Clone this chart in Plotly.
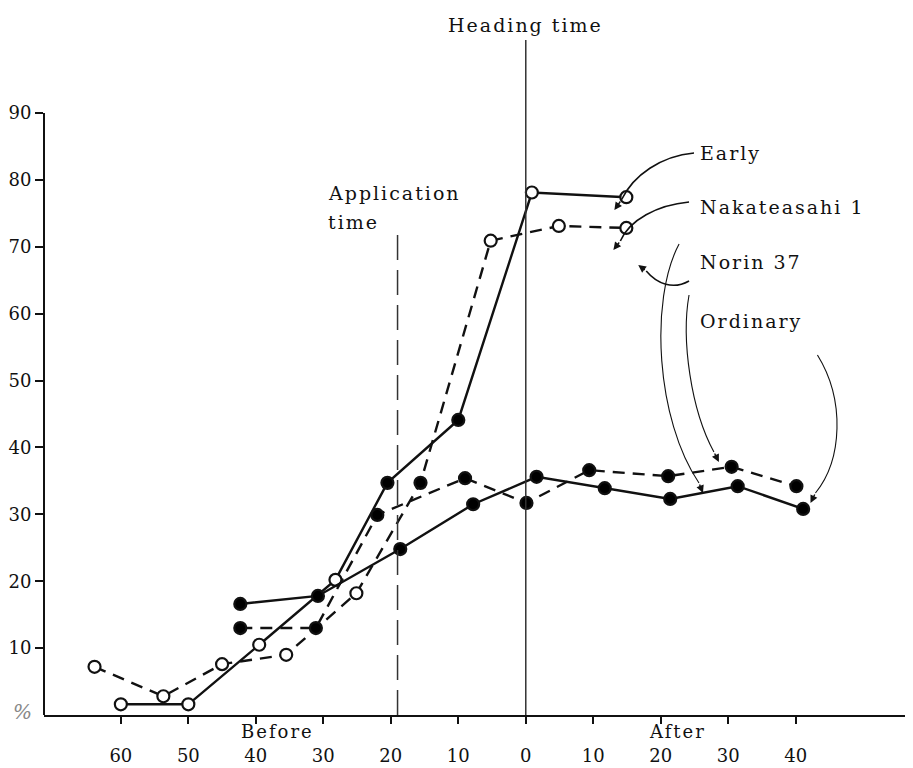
import plotly.graph_objects as go

# ---------------- data (days relative to heading; negative = before) -------------
early_solid_x = [-60.0, -50.0, -39.5, -28.2, -20.5, -10.0, 0.9, 14.9]
early_solid_y = [1.6, 1.6, 10.5, 20.2, 34.7, 44.1, 78.1, 77.4]
early_solid_filled = [False, False, False, False, True, True, False, False]

early_dash_x = [-63.9, -53.7, -45.0, -35.5, -25.1, -15.6, -5.2, 4.9, 14.9]
early_dash_y = [7.2, 2.8, 7.6, 9.0, 18.2, 34.7, 70.9, 73.1, 72.8]
early_dash_filled = [False, False, False, False, False, True, False, False, False]

ord_solid_x = [-42.3, -30.8, -18.6, -7.8, 1.6, 11.7, 21.4, 31.4, 41.1]
ord_solid_y = [16.6, 17.8, 24.8, 31.5, 35.6, 33.9, 32.3, 34.2, 30.8]

ord_dash_x = [-42.3, -31.1, -22.0, -9.0, 0.1, 9.4, 21.1, 30.5, 40.1]
ord_dash_y = [13.0, 13.0, 29.9, 35.4, 31.7, 36.6, 35.7, 37.1, 34.2]

x_tickvals = [-60, -50, -40, -30, -20, -10, 0, 10, 20, 30, 40]
x_ticktext = ["60", "50", "40", "30", "20", "10", "0", "10", "20", "30", "40"]
y_tickvals = [10, 20, 30, 40, 50, 60, 70, 80, 90]

heading_x = 0
application_x = -19

FONT = "DejaVu Serif"
INK = "#111111"

# ---------------- layout geometry (reference-page pixels) ----------------
PAGE_OFF = 8                     # browser body margin
FIG_W, FIG_H = 913 - PAGE_OFF, 768 - PAGE_OFF
PLOT_L, PLOT_R = 40, 913         # plot area edges on the page
PLOT_T, PLOT_B = 30, 715
X0_PX, X_SCALE = 524.0, 6.78
Y0_PX, Y_SCALE = 715.0, 6.69


def dx(px):
    return (px - X0_PX) / X_SCALE


def dy(py):
    return (Y0_PX - py) / Y_SCALE


def px_paper(px):
    return (px - PLOT_L) / (PLOT_R - PLOT_L)


def py_paper(py):
    return (PLOT_B - py) / (PLOT_B - PLOT_T)


def markers(filled_flags):
    return dict(
        symbol="circle",
        size=12,
        color=["#000000" if f else "white" for f in filled_flags],
        line=dict(color=INK, width=2.2),
    )


fig = go.Figure()

fig.add_trace(go.Scatter(
    x=early_solid_x, y=early_solid_y, mode="lines+markers",
    name="Early – Nakateasahi 1",
    line=dict(color=INK, width=2.4),
    marker=markers(early_solid_filled), cliponaxis=False))

fig.add_trace(go.Scatter(
    x=early_dash_x, y=early_dash_y, mode="lines+markers",
    name="Early – Norin 37",
    line=dict(color=INK, width=2.4, dash="12px,8px"),
    marker=markers(early_dash_filled), cliponaxis=False))

fig.add_trace(go.Scatter(
    x=ord_solid_x, y=ord_solid_y, mode="lines+markers",
    name="Ordinary – Nakateasahi 1",
    line=dict(color=INK, width=2.4),
    marker=markers([True] * len(ord_solid_x)), cliponaxis=False))

fig.add_trace(go.Scatter(
    x=ord_dash_x, y=ord_dash_y, mode="lines+markers",
    name="Ordinary – Norin 37",
    line=dict(color=INK, width=2.4, dash="12px,8px"),
    marker=markers([True] * len(ord_dash_x)), cliponaxis=False))

shapes = [
    # y axis line (only up to 90)
    dict(type="line", xref="paper", x0=0, x1=0, yref="y", y0=0, y1=90,
         line=dict(color=INK, width=2)),
    # heading time line
    dict(type="line", xref="x", x0=heading_x, x1=heading_x, yref="y", y0=0, y1=dy(40),
         line=dict(color="#333333", width=1.5)),
    # application time line
    dict(type="line", xref="x", x0=application_x, x1=application_x, yref="y", y0=0, y1=dy(232),
         line=dict(color="#333333", width=1.5, dash="25px,10px")),
]


def curve(p0, c1, c2, p1, width=1.6):
    path = "M {},{} C {},{} {},{} {},{}".format(
        dx(p0[0]), dy(p0[1]), dx(c1[0]), dy(c1[1]),
        dx(c2[0]), dy(c2[1]), dx(p1[0]), dy(p1[1]))
    return dict(type="path", xref="x", yref="y", path=path,
                line=dict(color=INK, width=width))


shapes += [
    curve((693, 153), (660, 156), (632, 175), (620, 200)),        # Early
    curve((688, 202), (656, 205), (628, 220), (619, 241)),        # Nakateasahi 1
    curve((688, 281), (672, 290), (656, 284), (645, 271)),        # Norin 37
    curve((678, 244), (648, 300), (655, 420), (698, 483), 1.1),   # thin A
    curve((688, 295), (680, 340), (690, 410), (713, 452), 1.1),   # thin B
    curve((817, 355), (845, 400), (842, 460), (815, 493), 1.1),   # thin C
]

annotations = []


def arrowhead(tip, ax, ay):
    annotations.append(dict(
        x=dx(tip[0]), y=dy(tip[1]), xref="x", yref="y", text="",
        showarrow=True, arrowhead=2, arrowsize=1.1, arrowwidth=1.4,
        arrowcolor=INK, ax=ax, ay=ay))


arrowhead((613, 210), 7, -10)
arrowhead((612, 250), 7, -9)
arrowhead((637, 265), 8, 6)
arrowhead((702, 493), -4, -10)
arrowhead((718, 462), -5, -10)
arrowhead((810, 503), 5, -10)


def label(text, px, py, xanchor="left", size=19, color=INK, italic=False, spacing=2):
    if spacing:
        text = '<span style="letter-spacing:{}px">{}</span>'.format(spacing, text)
    annotations.append(dict(
        x=px_paper(px), y=py_paper(py), xref="paper", yref="paper", text=text,
        showarrow=False, xanchor=xanchor, yanchor="middle",
        font=dict(family=FONT, size=size, color=color,
                  style="italic" if italic else "normal")))


label("Heading time", 524, 25, xanchor="center")
label("Application", 323, 193)
label("time", 323, 222)
label("Early", 697, 153)
label("Nakateasahi 1", 697, 207)
label("Norin 37", 697, 262)
label("Ordinary", 697, 321)
label("Before", 275, 731, xanchor="center", size=18)
label("After", 676, 731, xanchor="center", size=18)
label("%", 18, 712, xanchor="center", size=20, color="#888888", italic=True, spacing=0)

fig.update_layout(
    width=FIG_W, height=FIG_H,
    margin=dict(l=PLOT_L - PAGE_OFF, r=FIG_W - (PLOT_R - PAGE_OFF),
                t=PLOT_T - PAGE_OFF, b=FIG_H - (PLOT_B - PAGE_OFF)),
    paper_bgcolor="white", plot_bgcolor="white",
    showlegend=False,
    shapes=shapes, annotations=annotations,
    xaxis=dict(
        range=[dx(PLOT_L), dx(PLOT_R)], showgrid=False, zeroline=False,
        showline=True, linecolor=INK, linewidth=2,
        ticks="outside", ticklen=7, tickwidth=2, tickcolor=INK,
        tickvals=x_tickvals, ticktext=x_ticktext,
        ticklabelstandoff=16,
        tickfont=dict(family=FONT, size=18, color=INK)),
    yaxis=dict(
        range=[dy(PLOT_B), dy(PLOT_T)], showgrid=False, zeroline=False, showline=False,
        ticks="outside", ticklen=8, tickwidth=2, tickcolor=INK,
        tickvals=y_tickvals,
        tickfont=dict(family=FONT, size=18, color=INK)),
)

fig.write_html("out.html")
